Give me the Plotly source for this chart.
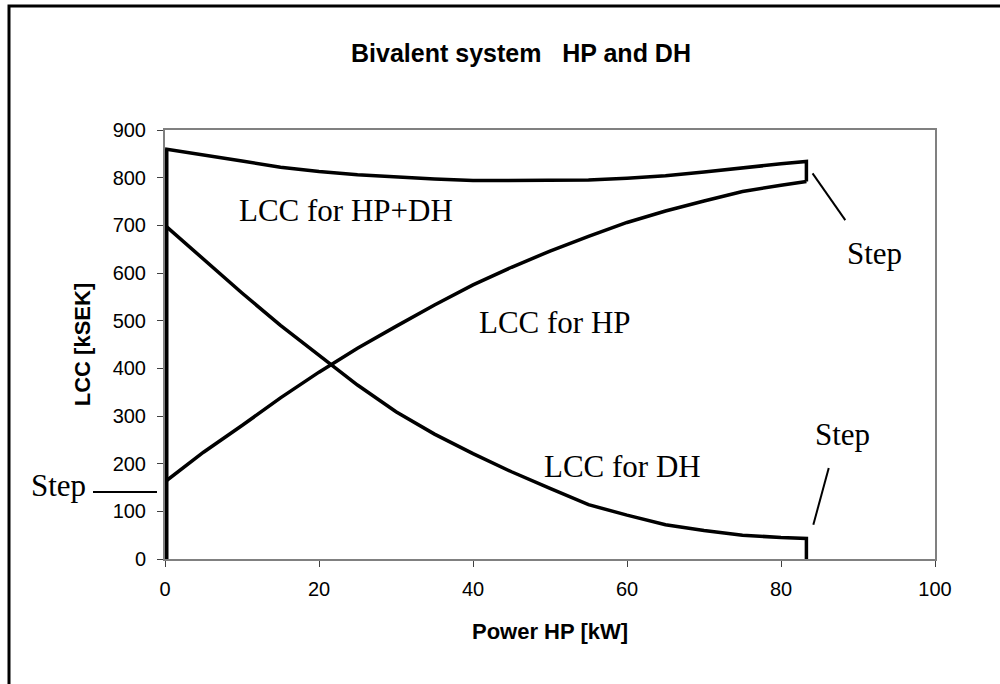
import plotly.graph_objects as go

# ---- data ----
power_kw = [0, 5, 10, 15, 20, 25, 30, 35, 40, 45, 50, 55, 60, 65, 70, 75, 80, 83.3]
lcc_hp = [162, 224, 280, 338, 392, 442, 488, 533, 575, 612, 646, 677, 706, 730, 751, 771, 784, 792]
lcc_dh = [700, 628, 558, 490, 428, 365, 309, 262, 221, 183, 148, 114, 92, 72, 60, 50, 45, 43]
lcc_hp_dh = [860, 848, 835, 822, 813, 806, 801, 797, 794, 794, 794, 795, 799, 804, 812, 821, 829, 834]
step_x = 83.3

x_ticks = [0, 20, 40, 60, 80, 100]
y_ticks = [0, 100, 200, 300, 400, 500, 600, 700, 800, 900]
x_range = [0, 100]
y_range = [0, 900]

# text labels (data coordinates, left-anchored)
labels = ["LCC for HP+DH", "LCC for HP", "LCC for DH", "Step", "Step", "Step"]
label_x = [9.4, 40.5, 49.0, 88.35, 84.2, -17.7]
label_y = [732, 497, 194, 641, 261, 154]

# leader lines for the "Step" labels (data coordinates)
leader_x0 = [-9.35, 84.1, 86.2]
leader_y0 = [140.5, 809, 191]
leader_x1 = [-1.04, 88.35, 84.2]
leader_y1 = [140.5, 711, 72]

# ---- figure ----
fig = go.Figure()
line_style = dict(color="black", width=3.5)

# vertical step at x=0 (drawn wider because the plot area clips half of it)
fig.add_trace(go.Scatter(x=[power_kw[0], power_kw[0]], y=[0, lcc_hp_dh[0]], mode="lines",
                         line=dict(color="black", width=7), cliponaxis=False, hoverinfo="skip"))
# HP+DH : curve, then step down to HP at the end
fig.add_trace(go.Scatter(x=power_kw + [step_x], y=lcc_hp_dh + [lcc_hp[-1]],
                         mode="lines", line=line_style, cliponaxis=False, name="LCC for HP+DH"))
# HP
fig.add_trace(go.Scatter(x=power_kw, y=lcc_hp, mode="lines", line=line_style,
                         cliponaxis=False, name="LCC for HP"))
# DH : curve then step down to 0
fig.add_trace(go.Scatter(x=power_kw + [step_x], y=lcc_dh + [0], mode="lines", line=line_style,
                         cliponaxis=False, name="LCC for DH"))

def to_px(v, r):
    return (v - r[0]) / (r[1] - r[0])

shapes = []
for xa, ya, xb, yb in zip(leader_x0, leader_y0, leader_x1, leader_y1):
    shapes.append(dict(type="line", xref="paper", yref="paper",
                       x0=to_px(xa, x_range), y0=to_px(ya, y_range),
                       x1=to_px(xb, x_range), y1=to_px(yb, y_range),
                       line=dict(color="black", width=2)))

# outer chart frame
L, R, T, B = 165, 65, 130, 125
W, H = 1000, 684
pw, ph = W - L - R, H - T - B
shapes.append(dict(type="rect", xref="paper", yref="paper",
                   x0=(9 - L) / pw, x1=(1010 - L) / pw,
                   y0=(H - B - 700) / ph, y1=(H - B - 6) / ph,
                   line=dict(color="black", width=3), fillcolor="rgba(0,0,0,0)", layer="below"))

annotations = []
for t, x, y in zip(labels, label_x, label_y):
    annotations.append(dict(text=t, x=to_px(x, x_range), y=to_px(y, y_range),
                            xref="paper", yref="paper", xanchor="left", yanchor="middle",
                            showarrow=False,
                            font=dict(family="Liberation Serif, Times New Roman, serif", size=31, color="black")))

axis_common = dict(showline=True, mirror=True, linecolor="#808080", linewidth=2,
                   ticks="outside", ticklen=6, tickwidth=1, tickcolor="#404040",
                   showgrid=False, zeroline=False,
                   tickfont=dict(family="Liberation Sans, Arial, sans-serif", size=20, color="black"))

fig.update_layout(
    width=W, height=H,
    margin=dict(l=L, r=R, t=T, b=B),
    paper_bgcolor="white", plot_bgcolor="white",
    showlegend=False,
    title=dict(text="Bivalent system \u00a0 HP and DH", x=0.521, xanchor="center",
               y=1 - 53.5 / H, yanchor="middle", yref="container",
               font=dict(family="Liberation Sans, Arial, sans-serif", size=25, color="black", weight="bold")),
    xaxis=dict(range=x_range, tickvals=x_ticks, ticklabelstandoff=5,
               title=dict(text="Power HP [kW]", standoff=25,
                          font=dict(family="Liberation Sans, Arial, sans-serif", size=22, color="black", weight="bold")),
               **axis_common),
    yaxis=dict(range=y_range, tickvals=y_ticks, ticklabelstandoff=7,
               title=dict(text="LCC [kSEK]", standoff=16,
                          font=dict(family="Liberation Sans, Arial, sans-serif", size=22, color="black", weight="bold")),
               **axis_common),
    shapes=shapes,
    annotations=annotations,
)

fig.write_html("out.html", config={"displayModeBar": False},
               post_script="document.body.style.margin='0';document.body.style.overflow='hidden';")
